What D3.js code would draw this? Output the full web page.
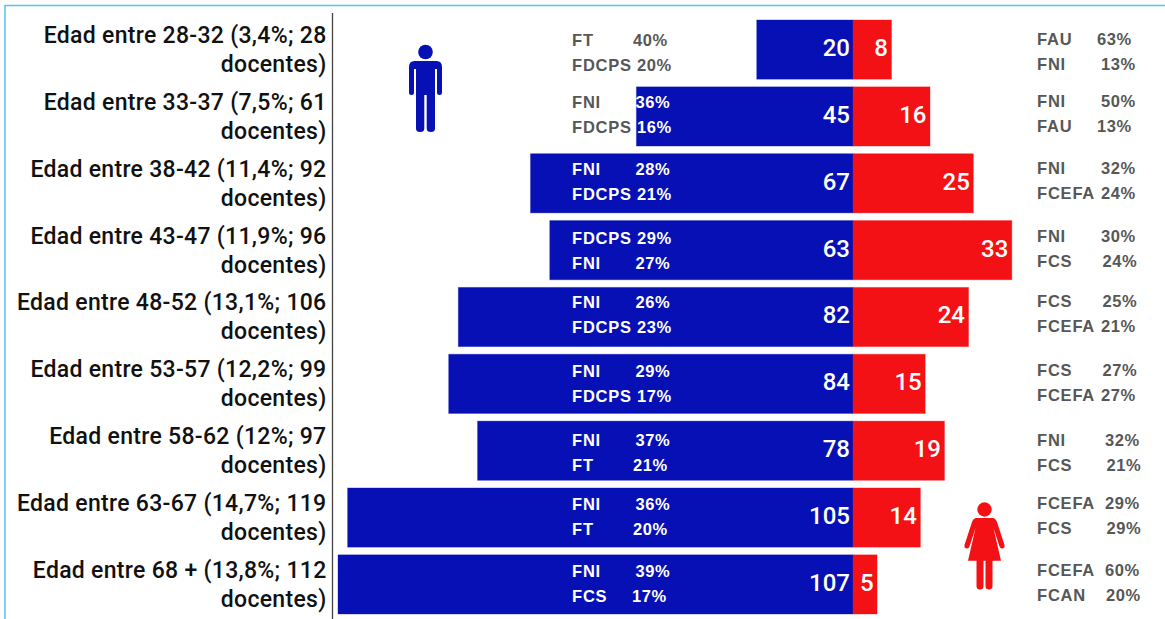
<!DOCTYPE html>
<html>
<head>
<meta charset="utf-8">
<script src="https://cdn.jsdelivr.net/npm/d3@7"></script>
<style>
  body { margin: 0; background: #fff; }
  svg { display: block; }
</style>
</head>
<body>
<div id="chart"></div>
<script>
const ageLabels = ["28-32 (3,4%; 28", "33-37 (7,5%; 61", "38-42 (11,4%; 92", "43-47 (11,9%; 96",
  "48-52 (13,1%; 106", "53-57 (12,2%; 99", "58-62 (12%; 97", "63-67 (14,7%; 119", "68 + (13,8%; 112"];
const menValues = [20, 45, 67, 63, 82, 84, 78, 105, 107];
const womenValues = [8, 16, 25, 33, 24, 15, 19, 14, 5];

const menFacA = ["FT", "FNI", "FNI", "FDCPS", "FNI", "FNI", "FNI", "FNI", "FNI"];
const menPctA = [40, 36, 28, 29, 26, 29, 37, 36, 39];
const menFacB = ["FDCPS", "FDCPS", "FDCPS", "FNI", "FDCPS", "FDCPS", "FT", "FT", "FCS"];
const menPctB = [20, 16, 21, 27, 23, 17, 21, 20, 17];
const womenFacA = ["FAU", "FNI", "FNI", "FNI", "FCS", "FCS", "FNI", "FCEFA", "FCEFA"];
const womenPctA = [63, 50, 32, 30, 25, 27, 32, 29, 60];
const womenFacB = ["FNI", "FAU", "FCEFA", "FCS", "FCEFA", "FCEFA", "FCS", "FCS", "FCAN"];
const womenPctB = [13, 13, 24, 24, 21, 27, 21, 29, 20];

const width = 1165, height = 619;
const blue = "#0610b4", red = "#f41115", grey = "#575757";
const center = 853;

const svg = d3.select("#chart").append("svg")
  .attr("width", width)
  .attr("height", height);

// frame of the original screenshot, only top and left show
svg.append("path")
  .attr("d", `M5,619V5.5H${width}`)
  .attr("fill", "none")
  .attr("stroke", "#55c3ee")
  .attr("stroke-width", 1.5);

const rows = d3.range(ageLabels.length);

const y = d3.scaleBand()
  .domain(rows)
  .range([20, 614])
  .paddingInner(0.115);

const x = d3.scaleLinear()
  .domain([0, 107])
  .range([0, 515]);

// bars, the soft stroke stands in for the blurred edge of the original
svg.append("g").selectAll("rect")
  .data(rows)
  .join("rect")
    .attr("x", i => center - x(menValues[i]))
    .attr("y", i => y(i))
    .attr("width", i => x(menValues[i]))
    .attr("height", y.bandwidth())
    .attr("fill", blue)
    .attr("stroke", blue)
    .attr("stroke-opacity", 0.35);

svg.append("g").selectAll("rect")
  .data(rows)
  .join("rect")
    .attr("x", center)
    .attr("y", i => y(i))
    .attr("width", i => x(womenValues[i]))
    .attr("height", y.bandwidth())
    .attr("fill", red)
    .attr("stroke", red)
    .attr("stroke-opacity", 0.35);

// axis line
svg.append("line")
  .attr("x1", 332.5).attr("x2", 332.5)
  .attr("y1", 13).attr("y2", height)
  .attr("stroke", "#444")
  .attr("stroke-width", 1.3);

// age labels, two lines each
const ageText = svg.append("g")
  .attr("font-family", "Roboto")
  .attr("font-weight", 500)
  .attr("font-size", 23)
  .attr("letter-spacing", 0.3)
  .attr("fill", "#111")
  .attr("text-anchor", "end");

ageText.selectAll("text.first")
  .data(rows)
  .join("text")
    .attr("class", "first")
    .attr("x", 326.5)
    .attr("y", i => y(i) + 23)
    .text(i => "Edad entre " + ageLabels[i]);

ageText.selectAll("text.second")
  .data(rows)
  .join("text")
    .attr("class", "second")
    .attr("x", 326.5)
    .attr("y", i => y(i) + 52)
    .text("docentes)");

// value labels inside the bars
const valueText = svg.append("g")
  .attr("font-family", "Roboto")
  .attr("font-weight", 500)
  .attr("font-size", 24)
  .attr("fill", "#fff")
  .attr("text-anchor", "end");

valueText.selectAll("text.men")
  .data(rows)
  .join("text")
    .attr("class", "men")
    .attr("x", center - 3)
    .attr("y", i => y(i) + 36)
    .text(i => menValues[i]);

valueText.selectAll("text.women")
  .data(rows)
  .join("text")
    .attr("class", "women")
    .attr("x", i => center + x(womenValues[i]) - 3.5)
    .attr("y", i => y(i) + 36)
    .text(i => womenValues[i]);

// the faculty text boxes were placed by hand in the original, so they do not follow the bars exactly
const menTextY = [46, 108, 175, 244, 308, 377, 446, 510, 577];
const womenTextY = [45, 107, 174, 242, 307, 376, 446, 509, 576];
const lineGap = 25;

// name and percent are padded with spaces in the original, so the gap depends on the name
const gapMen = {FT: 61, FNI: 63.5, FDCPS: 65, FCS: 60};
const gapWomen = {FAU: 60, FNI: 64, FCS: 65.5, FCEFA: 64, FCAN: 65};
const womenLateShift = i => (i >= 6 ? 4 : 0);

function facultyRows(names, pcts, xStart, gapOf, yOf, colorOf) {
  const g = svg.append("g")
    .attr("font-family", "Liberation Sans")
    .attr("font-weight", 700)
    .attr("font-size", 16.5);

  g.selectAll("text.name")
    .data(rows)
    .join("text")
      .attr("class", "name")
      .attr("x", xStart)
      .attr("y", yOf)
      .attr("letter-spacing", 0.8)
      .attr("fill", i => colorOf(i, xStart))
      .text(i => names[i]);

  g.selectAll("text.pct")
    .data(rows)
    .join("text")
      .attr("class", "pct")
      .attr("x", i => xStart + gapOf(i))
      .attr("y", yOf)
      .attr("letter-spacing", 0.6)
      .attr("fill", i => colorOf(i, xStart + gapOf(i) + 5))
      .text(i => pcts[i] + "%");
}

// white when the text sits on the blue bar
const menColor = (i, px) => (center - x(menValues[i]) < px ? "#fff" : grey);
const womenColor = () => grey;

facultyRows(menFacA, menPctA, 572, i => gapMen[menFacA[i]], i => menTextY[i], menColor);
facultyRows(menFacB, menPctB, 572, i => gapMen[menFacB[i]], i => menTextY[i] + lineGap, menColor);
facultyRows(womenFacA, womenPctA, 1037, i => gapWomen[womenFacA[i]] + womenLateShift(i), i => womenTextY[i], womenColor);
facultyRows(womenFacB, womenPctB, 1037, i => gapWomen[womenFacB[i]] + womenLateShift(i), i => womenTextY[i] + lineGap, womenColor);

// man icon
const man = svg.append("g").attr("fill", blue).attr("transform", "translate(425.5,0)");
man.append("circle").attr("cy", 52).attr("r", 7.3);
man.append("path").attr("d",
  "M-11,61 H11 Q16.5,61 16.5,67 V92.5 Q16.5,95 14,95 Q11.5,95 11.5,92.5 V69 H9.5 V128.5 Q9.5,132 5.5,132 Q1.2,132 1.2,128.5 V95 H-1.2 V128.5 Q-1.2,132 -5.5,132 Q-9.5,132 -9.5,128.5 V69 H-11.5 V92.5 Q-11.5,95 -14,95 Q-16.5,95 -16.5,92.5 V67 Q-16.5,61 -11,61 Z");

// woman icon
const woman = svg.append("g").attr("fill", red).attr("transform", "translate(984.5,0)");
woman.append("circle").attr("cy", 509.5).attr("r", 7.2);
woman.append("path").attr("d",
  "M-8,518 H8 Q11,518 12.5,522 L20,545 Q20.5,548 18,548.5 Q16,549 15,546.5 L9,528 L16.5,560.7 H8 V586 Q8,589.5 4.5,589.5 Q1,589.5 1,586 V560.7 H-1 V586 Q-1,589.5 -4.5,589.5 Q-8,589.5 -8,586 V560.7 H-16.5 L-9,528 L-15,546.5 Q-16,549 -18,548.5 Q-20.5,548 -20,545 L-12.5,522 Q-11,518 -8,518 Z");
</script>
</body>
</html>
